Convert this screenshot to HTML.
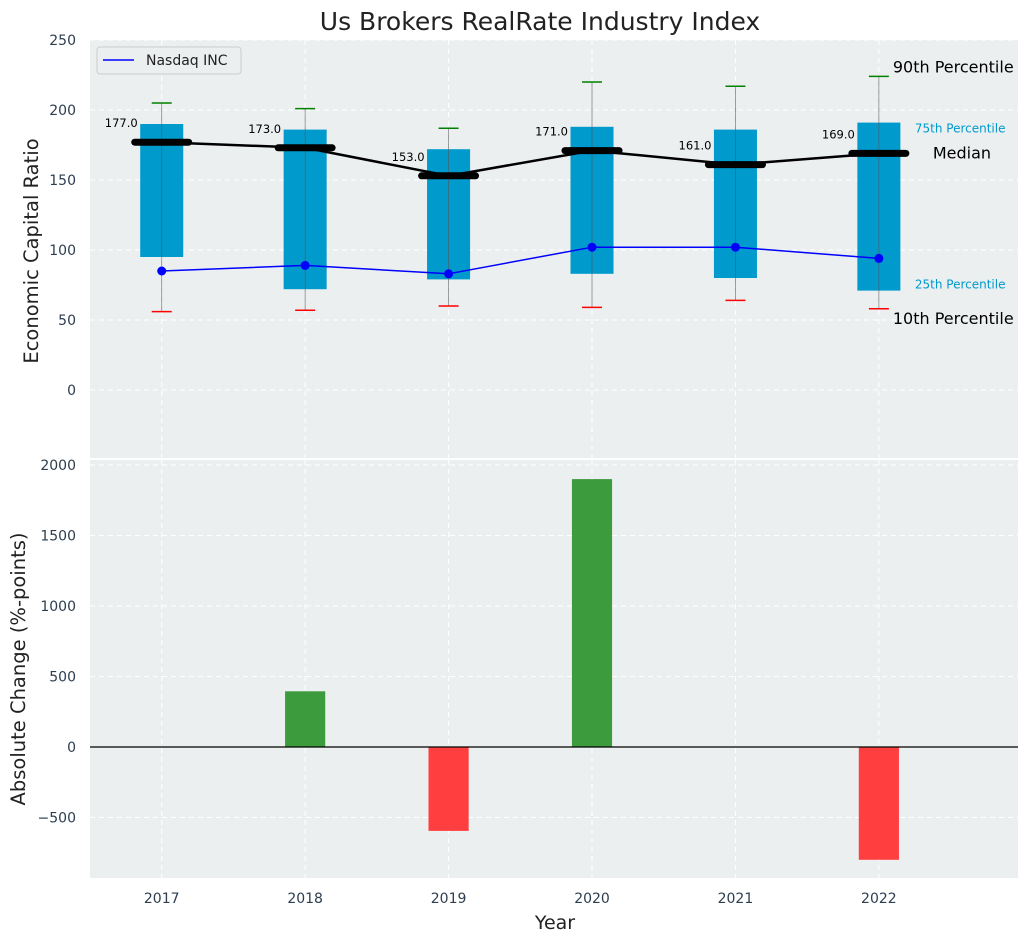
<!DOCTYPE html>
<html><head><meta charset="utf-8"><style>
body{margin:0;background:#fff;font-family:"DejaVu Sans","Liberation Sans",sans-serif;}
</style></head><body>
<svg id="c" width="1029" height="942" xmlns="http://www.w3.org/2000/svg" font-family="DejaVu Sans, Liberation Sans, sans-serif"></svg>
<script>
const years=[2017,2018,2019,2020,2021,2022];
const p10=[56,57,60,59,64,58];
const p25=[95,72,79,83,80,71];
const med=[177,173,153,171,161,169];
const p75=[190,186,172,188,186,191];
const p90=[205,201,187,220,217,224];
const nasdaq=[85,89,83,102,102,94];
const change=[0,395,-595,1900,0,-800];
const topTicks=[0,50,100,150,200,250];
const botTicks=[-500,0,500,1000,1500,2000];

const svg=document.getElementById('c');const NS='http://www.w3.org/2000/svg';
function el(t,a,p,txt){
 if(p!==undefined && !(p instanceof Element)){txt=p;p=undefined;}
 const e=document.createElementNS(NS,t);for(const k in a)e.setAttribute(k,a[k]);
 if(txt!==undefined)e.textContent=String(txt);(p||svg).appendChild(e);return e;}
const L=90,R=1018;
const x=v=>L+(v-2016.5)*(R-L)/(2022.97-2016.5);
const yT=v=>40+(250-v)*1.4;
const yB=v=>747-v*0.141;
let g=el('rect',{x:L,y:40,width:R-L,height:418,fill:'#ECEFF0'});

g=el('rect',{x:L,y:460,width:R-L,height:418,fill:'#ECEFF0'});

years.forEach(yr=>{
 el('line',{x1:x(yr),x2:x(yr),y1:40,y2:458,stroke:'#fff','stroke-dasharray':'5,4'});
 el('line',{x1:x(yr),x2:x(yr),y1:460,y2:878,stroke:'#fff','stroke-dasharray':'5,4'});
 let t=el('text',{x:x(yr),y:903,'text-anchor':'middle','font-size':14,fill:'#2c3e50'},yr);
 
});
topTicks.forEach(v=>{
 el('line',{x1:L,x2:R,y1:yT(v),y2:yT(v),stroke:'#fff','stroke-dasharray':'5,4'});
 let t=el('text',{x:76,y:yT(v)+5,'text-anchor':'end','font-size':14,fill:'#2c3e50'},v);
 
});
botTicks.forEach(v=>{
 el('line',{x1:L,x2:R,y1:yB(v),y2:yB(v),stroke:'#fff','stroke-dasharray':'5,4'});
 let t=el('text',{x:76,y:yB(v)+5,'text-anchor':'end','font-size':14,fill:'#2c3e50'},v<0?'−'+(-v):v);
 
});
const bw=(x(2017.15)-x(2016.85));
years.forEach((yr,i)=>{
 let b=el('rect',{x:x(yr)-bw/2,y:yT(p75[i]),width:bw,height:yT(p25[i])-yT(p75[i]),fill:'#009ACD'});
 
 let w=el('line',{x1:x(yr),x2:x(yr),y1:yT(p90[i]),y2:yT(p10[i]),stroke:'#555','stroke-width':0.8,opacity:0.7});
 
 let h=el('line',{x1:x(yr)-10,x2:x(yr)+10,y1:yT(p90[i]),y2:yT(p90[i]),stroke:'green','stroke-width':1.5});
 
 let l=el('line',{x1:x(yr)-10,x2:x(yr)+10,y1:yT(p10[i]),y2:yT(p10[i]),stroke:'red','stroke-width':1.5});
 
});
let mp=el('polyline',{points:years.map((yr,i)=>x(yr)+','+yT(med[i])).join(' '),fill:'none',stroke:'#000','stroke-width':2.5});

years.forEach((yr,i)=>{
 let m=el('line',{x1:x(yr)-27,x2:x(yr)+27,y1:yT(med[i]),y2:yT(med[i]),stroke:'#000','stroke-width':7,'stroke-linecap':'round'});
 
 let t=el('text',{x:x(yr)-24,y:yT(med[i])-15,'text-anchor':'end','font-size':11.5,fill:'#000'},med[i].toFixed(1));
 
});
let np=el('polyline',{points:years.map((yr,i)=>x(yr)+','+yT(nasdaq[i])).join(' '),fill:'none',stroke:'blue','stroke-width':1.5});

years.forEach((yr,i)=>{let c=el('circle',{cx:x(yr),cy:yT(nasdaq[i]),r:4.5,fill:'blue'});
 });
const last=years.length-1;
[['90th Percentile',x(years[last])+14,yT(p90[last])-4,16,'#000'],['75th Percentile',x(years[last])+36,yT(p75[last])+10,12,'#009ACD'],['Median',x(years[last])+54,yT(med[last])+5,16,'#000'],['25th Percentile',x(years[last])+36,yT(p25[last])-2,12,'#009ACD'],['10th Percentile',x(years[last])+14,yT(p10[last])+15,16,'#000']].forEach(a=>{
 let t=el('text',{x:a[1],y:a[2],'font-size':a[3],fill:a[4]},a[0]);});
let lg=el('g',{});
el('rect',{x:97,y:47,width:144,height:27,rx:3,fill:'#ECEFF0',stroke:'#ccc'},lg);
el('line',{x1:103,x2:134,y1:60,y2:60,stroke:'blue','stroke-width':1.5},lg);
el('text',{x:146,y:65,'font-size':14,fill:'#222'},lg,'Nasdaq INC');
const bbw=x(2017.14)-x(2016.86);
years.forEach((yr,i)=>{if(!change[i])return;
 let b=el('rect',{x:x(yr)-bbw/2,y:Math.min(yB(0),yB(change[i])),width:bbw,height:Math.abs(yB(change[i])-yB(0)),fill:change[i]>0?'#3C9B3C':'#FF3F3F'});
 });
el('line',{x1:L,x2:R,y1:yB(0),y2:yB(0),stroke:'#000','stroke-width':1.2});
let t=el('text',{x:540,y:30,'text-anchor':'middle','font-size':25,fill:'#222'},'Us Brokers RealRate Industry Index');
t=el('text',{x:555,y:929,'text-anchor':'middle','font-size':19,fill:'#222'},'Year');
t=el('text',{x:38,y:251,'text-anchor':'middle','font-size':19.5,fill:'#222',transform:'rotate(-90 38 251)'},'Economic Capital Ratio');
t=el('text',{x:25,y:669,'text-anchor':'middle','font-size':19.5,fill:'#222',transform:'rotate(-90 25 669)'},'Absolute Change (%-points)');
</script>
</body></html>
